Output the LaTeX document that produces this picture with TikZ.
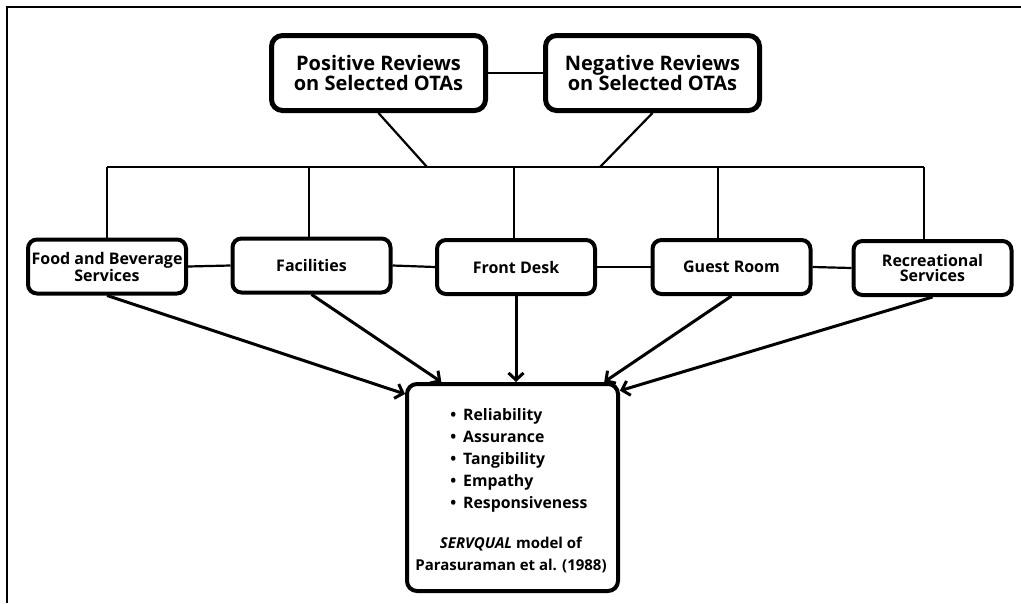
\documentclass[tikz,border=0pt]{standalone}
\usepackage{fontspec}
\setmainfont{Open Sans}
\usetikzlibrary{arrows.meta}
\begin{document}
\begin{tikzpicture}[x=1pt,y=-1pt,
  topbox/.style={draw, fill=white, line width=5pt, rounded corners=11pt, minimum width=214pt, minimum height=75pt, align=center, inner sep=0pt, font=\bfseries\fontsize{20}{20}\selectfont},
  midbox/.style={draw, fill=white, line width=4pt, rounded corners=9pt, minimum width=158pt, minimum height=54pt, align=center, inner sep=0pt, font=\bfseries\fontsize{16}{15}\selectfont},
  sqbox/.style={draw, fill=white, line width=4pt, rounded corners=10pt, minimum width=211pt, minimum height=207pt, inner sep=0pt},
  itemtext/.style={anchor=base west, inner sep=0pt, font=\bfseries\fontsize{15.8}{22}\selectfont},
  citetext/.style={anchor=base, inner sep=0pt, font=\bfseries\fontsize{15}{22}\selectfont},
  link/.style={line width=2.2pt},
  bus/.style={line width=2.6pt},
  arr/.style={line width=3pt, -{Straight Barb[length=7pt,width=15pt]}},
  frame/.style={line width=2pt}
]
\useasboundingbox (0,0) rectangle (1021,603);
\draw[frame] (7,603) -- (7,7) -- (1021,7);

% bus coordinates
\coordinate (b1) at (107,167);
\coordinate (b2) at (309,167);
\coordinate (b3) at (514,167);
\coordinate (b4) at (718,167);
\coordinate (b5) at (924,167);
\coordinate (bp) at (427,167);
\coordinate (bn) at (600,167);

% nodes
\node[topbox] (pos) at (378.5,73) {Positive Reviews\\on Selected OTAs};
\node[topbox] (neg) at (652.5,73) {Negative Reviews\\on Selected OTAs};

\node[midbox] (food) at (107,266.5) {Food and Beverage\\Services};
\node[midbox] (fac) at (311.5,265.5) {Facilities};
\node[midbox] (fd) at (516,267) {Front Desk};
\node[midbox] (gr) at (731.5,267) {Guest Room};
\node[midbox] (rec) at (932.5,268) {Recreational\\Services};

\node[sqbox] (sq) at (512.5,487.5) {};

\foreach \t [count=\i] in {Reliability, Assurance, Tangibility, Empathy, Responsiveness}
  \node[itemtext] (i\i) at (463, 398+22*\i) {\llap{\textbullet\hspace{7pt}}\t};
\node[citetext] (c1) at (511,548) {\textit{SERVQUAL} model of};
\node[citetext] (c2) at (511,570) {Parasuraman et al. (1988)};

% connectors
\draw[link] (pos.east) -- (neg.west);
\draw[link] (pos.south) -- (bp);
\draw[link] (neg.south) -- (bn);
\draw[bus] (b1) -- (b5);
\draw[bus] (b1) -- (b1 |- food.north);
\draw[bus] (b2) -- (b2 |- fac.north);
\draw[bus] (b3) -- (b3 |- fd.north);
\draw[bus] (b4) -- (b4 |- gr.north);
\draw[bus] (b5) -- (b5 |- rec.north);

\draw[link] (food.east) -- (fac.west);
\draw[link] (fac.east) -- (fd.west);
\draw[link] (fd.east) -- (gr.west);
\draw[link] (gr.east) -- (rec.west);

\draw[arr] (food.south) -- (sq.139);
\draw[arr] (fac.south) -- (sq.124.5);
\draw[arr] (fd.south) -- (fd.south |- sq.north);
\draw[arr] (gr.south) -- (sq.49);
\draw[arr] (rec.south) -- (sq.42);
\end{tikzpicture}
\end{document}
